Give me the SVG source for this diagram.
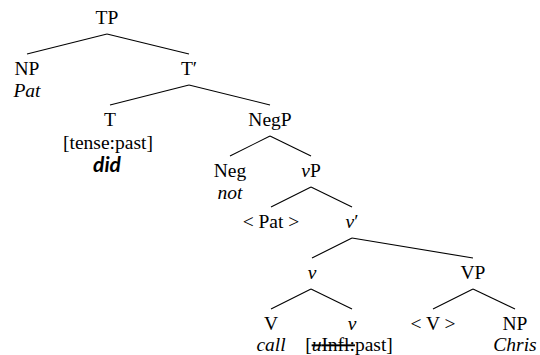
<svg xmlns="http://www.w3.org/2000/svg" width="540" height="355" viewBox="0 0 540 355">
<style>
text{font-size:19.5px;fill:#000;text-anchor:middle}
.i{font-style:italic}
.did{font-weight:bold;font-style:italic;font-size:21px}
.c line{stroke:#000;stroke-width:1.1}
</style>
<rect width="540" height="355" fill="#fff"/>
<g class="c" id="connectors">
<line x1="107" y1="34" x2="27" y2="54"/>
<line x1="107" y1="34" x2="189" y2="54"/>
<line x1="189" y1="85" x2="110" y2="105"/>
<line x1="189" y1="85" x2="270" y2="105"/>
<line x1="270" y1="136" x2="230" y2="156"/>
<line x1="270" y1="136" x2="311" y2="156"/>
<line x1="311" y1="187" x2="271" y2="207"/>
<line x1="311" y1="187" x2="352" y2="207"/>
<line x1="352" y1="238" x2="312" y2="258"/>
<line x1="352" y1="238" x2="473" y2="258"/>
<line x1="311" y1="289" x2="271" y2="309"/>
<line x1="311" y1="289" x2="352" y2="309"/>
<line x1="473" y1="289" x2="433" y2="309"/>
<line x1="473" y1="289" x2="515" y2="309"/>
</g>
<g font-family="Liberation Serif, DejaVu Serif, serif">
<g id="TP"><text x="107" y="24">TP</text></g>
<g id="NP1"><text x="27" y="75">NP</text><text class="i" x="27" y="97">Pat</text></g>
<g id="Tbar"><text x="189" y="75">T′</text></g>
<g id="T"><text x="110" y="126">T</text><text x="108" y="149">[tense:past]</text><text class="did" font-family="Lato, Open Sans, sans-serif" x="107" y="172">did</text></g>
<g id="NegP"><text x="270" y="126">NegP</text></g>
<g id="Neg"><text x="230" y="177">Neg</text><text class="i" x="230" y="199">not</text></g>
<g id="vP"><text x="311" y="177"><tspan class="i">v</tspan>P</text></g>
<g id="Pat"><text x="271" y="228">&lt; Pat &gt;</text></g>
<g id="vbar"><text x="352" y="228"><tspan class="i">v</tspan>′</text></g>
<g id="v1"><text class="i" x="312" y="279">v</text></g>
<g id="VP"><text x="473" y="279">VP</text></g>
<g id="V"><text x="271" y="330">V</text><text class="i" x="271" y="351">call</text></g>
<g id="v2"><text class="i" x="352" y="330">v</text><text x="349" y="351">[<tspan text-decoration="line-through"><tspan class="i">u</tspan>Infl:</tspan>past]</text></g>
<g id="Vtrace"><text x="433" y="330">&lt; V &gt;</text></g>
<g id="NP2"><text x="515" y="330">NP</text><text class="i" x="515" y="351">Chris</text></g>
</g>
</svg>
